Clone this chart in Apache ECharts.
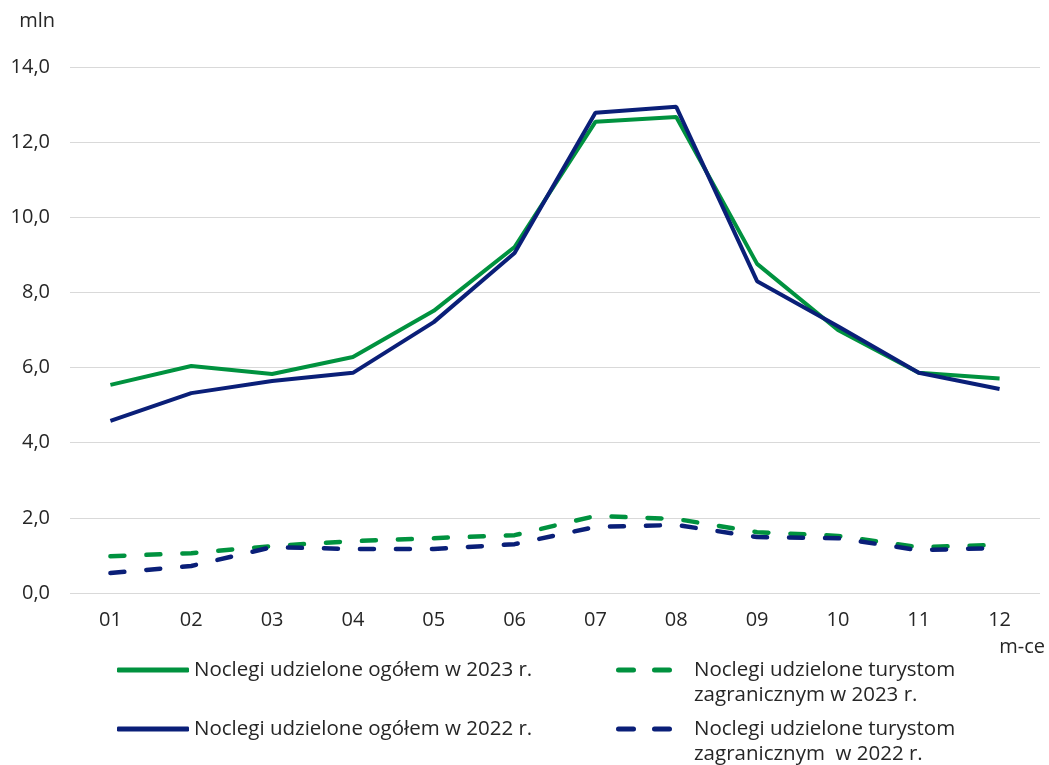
<!DOCTYPE html>
<html>
<head>
<meta charset="utf-8">
<script src="https://cdn.jsdelivr.net/npm/echarts@6/dist/echarts.min.js"></script>
<style>
html,body{margin:0;padding:0;background:#fff;}
#main{width:1049px;height:765px;}
</style>
</head>
<body>
<div id="main"></div>
<script>
var categories = ['01','02','03','04','05','06','07','08','09','10','11','12'];
var total2023 = [5.54, 6.04, 5.83, 6.28, 7.51, 9.21, 12.54, 12.67, 8.76, 7.00, 5.86, 5.71];
var total2022 = [4.58, 5.32, 5.64, 5.86, 7.21, 9.05, 12.78, 12.94, 8.30, 7.10, 5.86, 5.43];
var foreign2023 = [0.98, 1.06, 1.25, 1.38, 1.46, 1.54, 2.05, 1.97, 1.62, 1.52, 1.22, 1.28];
var foreign2022 = [0.53, 0.72, 1.22, 1.17, 1.17, 1.30, 1.76, 1.81, 1.49, 1.46, 1.14, 1.20];
var yTicks = [0, 2, 4, 6, 8, 10, 12, 14];

var names = [
  'Noclegi udzielone ogółem w 2023 r.',
  'Noclegi udzielone ogółem w 2022 r.',
  'Noclegi udzielone turystom\nzagranicznym w 2023 r.',
  'Noclegi udzielone turystom\nzagranicznym  w 2022 r.'
];

var FONT = '"Open Sans", "Liberation Sans", sans-serif';
var TXT = '#262626';
var GREEN = '#00923f';
var NAVY = '#0a1f78';
var DASH_ICON = 'path://M2.5,0h15a2.5,2.5,0,0,1,0,5h-15a2.5,2.5,0,0,1,0,-5z M38.5,0h15a2.5,2.5,0,0,1,0,5h-15a2.5,2.5,0,0,1,0,-5z';

var chart = echarts.init(document.getElementById('main'));

function legend(name, left, top, dashed) {
  return {
    data: [name],
    left: left,
    top: top,
    orient: 'vertical',
    icon: dashed ? DASH_ICON : 'roundRect',
    itemWidth: dashed ? 56 : 72,
    itemHeight: 5,
    padding: 0,
    selectedMode: false,
    formatter: function (n) { return dashed ? '\n' + n : n; },
    textStyle: {
      fontFamily: FONT, fontSize: 20.5, color: TXT, lineHeight: 25,
      padding: dashed ? [0, 0, 0, 17] : 0
    }
  };
}

chart.setOption({
  animation: false,
  backgroundColor: '#fff',
  grid: { left: 70, right: 9, top: 67, bottom: 172 },
  legend: [
    legend(names[0], 117, 657.5, false),
    legend(names[1], 117, 716.5, false),
    legend(names[2], 616, 632.5, true),
    legend(names[3], 616, 691.5, true)
  ],
  xAxis: {
    type: 'category',
    data: categories,
    boundaryGap: true,
    name: 'm-ce',
    nameLocation: 'end',
    nameGap: 5,
    nameTextStyle: { fontFamily: FONT, fontSize: 20, color: TXT, align: 'right', verticalAlign: 'top', padding: [44, 0, 0, 0] },
    axisLine: { show: false },
    axisTick: { show: false },
    axisLabel: { fontFamily: FONT, fontSize: 20, color: TXT, margin: 17 }
  },
  yAxis: {
    type: 'value',
    min: yTicks[0],
    max: yTicks[yTicks.length - 1],
    interval: 2,
    name: 'mln',
    nameLocation: 'end',
    nameGap: 46,
    nameTextStyle: { fontFamily: FONT, fontSize: 20, color: TXT, align: 'right', verticalAlign: 'middle', padding: [0, 15, 0, 0] },
    axisLine: { show: false },
    axisTick: { show: false },
    splitLine: { lineStyle: { color: '#d9d9d9', width: 1 } },
    axisLabel: {
      fontFamily: FONT, fontSize: 20, color: TXT, margin: 20,
      formatter: function (v) { return v.toFixed(1).replace('.', ','); }
    }
  },
  series: [
    { name: names[0], type: 'line', data: total2023, symbol: 'none', color: GREEN,
      lineStyle: { color: GREEN, width: 4 }, z: 3 },
    { name: names[1], type: 'line', data: total2022, symbol: 'none', color: NAVY,
      lineStyle: { color: NAVY, width: 4 }, z: 4 },
    { name: names[2], type: 'line', data: foreign2023, symbol: 'none', color: GREEN,
      lineStyle: { color: GREEN, width: 4.5, type: [14, 22], cap: 'round' }, z: 3 },
    { name: names[3], type: 'line', data: foreign2022, symbol: 'none', color: NAVY,
      lineStyle: { color: NAVY, width: 4.5, type: [14, 22], cap: 'round' }, z: 4 }
  ]
});
</script>
</body>
</html>
